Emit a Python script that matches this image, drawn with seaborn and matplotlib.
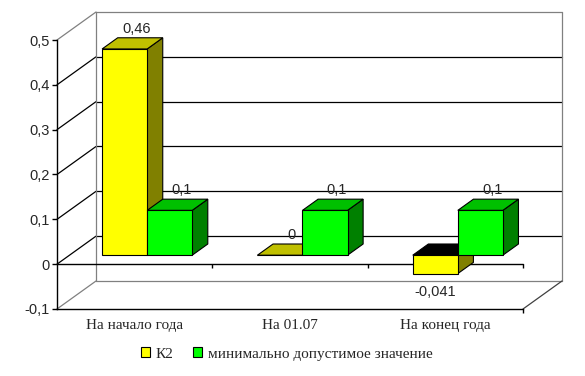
import numpy as np
import pandas as pd
import matplotlib
matplotlib.use("Agg")
import matplotlib.pyplot as plt
from matplotlib.patches import Polygon
import seaborn as sns

# ---------------- data ----------------
periods = ["На начало года", "На 01.07", "На конец года"]
k2_values = [0.46, 0.0, -0.041]
min_values = [0.1, 0.1, 0.1]
series_names = ["К2", "минимально допустимое значение"]
y_ticks = [-0.1, 0.0, 0.1, 0.2, 0.3, 0.4, 0.5]
y_tick_labels = ["-0,1", "0", "0,1", "0,2", "0,3", "0,4", "0,5"]

# ---------------- style ----------------
front_colors = ["#FFFF00", "#00FF00"]
top_colors = ["#C0C000", "#00C000"]
side_colors = ["#808000", "#008000"]
neg_top_color = "#000000"

df = pd.DataFrame({
    "period": periods * 2,
    "value": k2_values + min_values,
    "series": [series_names[0]] * len(periods) + [series_names[1]] * len(periods),
})

sns.set_theme(style="white")
plt.rcParams["font.family"] = ["Liberation Serif", "DejaVu Serif"]

W, H = 585, 376
fig = plt.figure(figsize=(W / 100, H / 100), dpi=100)
fig.patch.set_facecolor("white")
L, R, T, B = 57, 523, 40, 309          # front plane of the plot, pixels
ax = fig.add_axes([L / W, 1 - B / H, (R - L) / W, (B - T) / H])
ax.set_facecolor("none")

sns.barplot(data=df, x="period", y="value", hue="series", order=periods,
            hue_order=series_names, palette=front_colors, saturation=1,
            width=0.58, errorbar=None, edgecolor="black", linewidth=0.8, ax=ax)

ymin, ymax = y_ticks[0], y_ticks[-1]
ax.set_xlim(-0.5, len(periods) - 0.5)
ax.set_ylim(ymin, ymax)
sx = (R - L) / len(periods)            # px per category unit
sy = (B - T) / (ymax - ymin)           # px per value unit

# oblique depth vector (full depth of the box)
DX, DY = 39 / sx, 28 / sy
F, TH = 0.32, 0.40                      # bar front depth, bar thickness
xl, xr = -0.5, len(periods) - 0.5

# ---------------- walls / grid ----------------
gray = "#808080"
for v in y_ticks:
    edge = v in (ymin, ymax)
    c = gray if edge else "black"
    ax.plot([xl, xl + DX], [v, v + DY], color=c, lw=0.9, clip_on=False, zorder=0.5)
    ax.plot([xl + DX, xr + DX], [v + DY, v + DY], color=c, lw=0.9, clip_on=False, zorder=0.5)
for xx in (xl + DX, xr + DX):
    ax.plot([xx, xx], [ymin + DY, ymax + DY], color=gray, lw=0.9, clip_on=False, zorder=0.5)
ax.plot([xr, xr + DX], [ymin, ymin + DY], color="#404040", lw=0.9, clip_on=False, zorder=0.5)

# zero plane front edge + category ticks
ax.plot([xl, xr], [0, 0], color="black", lw=1, clip_on=False, zorder=0.6)
tick_len = 4 / sy
ax.vlines(np.arange(len(periods)) + 0.5, 0, -tick_len, color="black", lw=1, clip_on=False, zorder=0.6)
ax.vlines([xr], ymin, ymin - tick_len, color="black", lw=1, clip_on=False, zorder=0.6)

# ---------------- 3D bars ----------------
dDX, dDY = TH * DX, TH * DY
for k, cont in enumerate(ax.containers):
    base_z = 2 + k
    for p in cont.patches:
        x0 = p.get_x() + F * DX
        w = p.get_width()
        y0 = p.get_y() + F * DY
        h = p.get_height()
        p.set_x(x0)
        p.set_y(y0)
        p.set_zorder(base_z + 0.2)
        p.set_clip_on(False)
        bot, top = y0 + min(0, h), y0 + max(0, h)
        side = Polygon([(x0 + w, bot), (x0 + w, top), (x0 + w + dDX, top + dDY),
                        (x0 + w + dDX, bot + dDY)], closed=True,
                       facecolor=side_colors[k], edgecolor="black", lw=0.8,
                       zorder=base_z, clip_on=False)
        topc = top_colors[k] if h >= 0 else neg_top_color
        topf = Polygon([(x0, top), (x0 + w, top), (x0 + w + dDX, top + dDY),
                        (x0 + dDX, top + dDY)], closed=True,
                       facecolor=topc, edgecolor="black", lw=0.8,
                       zorder=base_z + 0.1, clip_on=False)
        ax.add_patch(side)
        ax.add_patch(topf)
        val = h
        txt = f"{val:g}".replace(".", ",")
        if val >= 0:
            ax.annotate(txt, xy=(x0 + w / 2 + dDX / 2, top + dDY / 2),
                        xytext=(3, 10.5), textcoords="offset points",
                        ha="center", va="center", fontsize=10.5,
                        family=["Liberation Sans", "DejaVu Sans"],
                        zorder=10, annotation_clip=False)
        else:
            ax.annotate(txt, xy=(x0 + w / 2, bot),
                        xytext=(0, -13), textcoords="offset points",
                        ha="center", va="center", fontsize=10.5,
                        family=["Liberation Sans", "DejaVu Sans"],
                        zorder=10, annotation_clip=False)

# ---------------- axes ----------------
ax.set_xlabel("")
ax.set_ylabel("")
ax.set_yticks(y_ticks, y_tick_labels)
for s in ("top", "right"):
    ax.spines[s].set_visible(False)
for s in ("left", "bottom"):
    ax.spines[s].set_color("black")
    ax.spines[s].set_linewidth(1)
ax.tick_params(axis="y", left=True, length=3.5, width=1, color="black", pad=1.5,
               labelsize=10.5, direction="out")
ax.tick_params(axis="x", bottom=False, length=0, pad=7, labelsize=11)
for lab in ax.get_yticklabels():
    lab.set_family(["Liberation Sans", "DejaVu Sans"])

sns.move_legend(ax, "center", bbox_to_anchor=(287 / W, 1 - 354 / H),
                bbox_transform=fig.transFigure, ncol=2, frameon=False, title=None,
                fontsize=11, handlelength=0.55, handleheight=0.55,
                handletextpad=0.4, columnspacing=1.3)

fig.savefig("out.png", dpi=100, facecolor="white")
